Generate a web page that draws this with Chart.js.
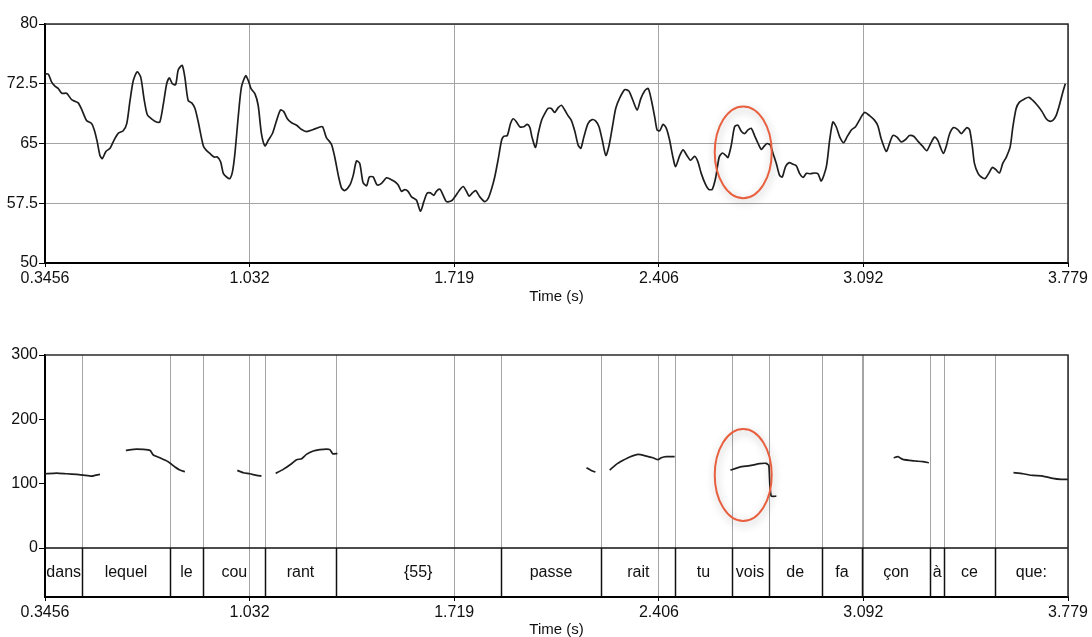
<!DOCTYPE html>
<html>
<head>
<meta charset="utf-8">
<script src="https://cdn.jsdelivr.net/npm/chart.js@4.4.0/dist/chart.umd.min.js"></script>
<style>
  body { margin: 0; background: #fff; }
  #wrap { position: relative; width: 1092px; height: 637px; overflow: hidden; }
  canvas { position: absolute; left: 0; }
  #intensityChart { top: 0; }
  #pitchChart { top: 320px; }
</style>
</head>
<body>
<div id="wrap">
  <canvas id="intensityChart" width="1092" height="320"></canvas>
  <canvas id="pitchChart" width="1092" height="317"></canvas>
</div>
<script>
'use strict';

// time axis
let timeMin = 0.3456;
let timeMax = 3.779;
let timeTicks = [0.3456, 1.032, 1.719, 2.406, 3.092, 3.779];
let timeTickLabels = ['0.3456', '1.032', '1.719', '2.406', '3.092', '3.779'];

// intensity (dB) panel
let dbTicks = [50, 57.5, 65, 72.5, 80];
let dbTickLabels = ['50', '57.5', '65', '72.5', '80'];

let intensityTime = [
  0.3456, 0.357, 0.368, 0.379, 0.390, 0.402, 0.418, 0.435, 0.446, 0.457,
  0.469, 0.485, 0.502, 0.511, 0.521, 0.530, 0.538, 0.550, 0.564, 0.577,
  0.592, 0.608, 0.620, 0.631, 0.642, 0.655, 0.667, 0.678, 0.689, 0.703,
  0.720, 0.731, 0.743, 0.754, 0.763, 0.773, 0.784, 0.793, 0.806, 0.815,
  0.826, 0.838, 0.849, 0.860, 0.877, 0.888, 0.899, 0.913, 0.924, 0.935,
  0.944, 0.955, 0.966, 0.975, 0.983, 0.994, 1.005, 1.019, 1.028, 1.037,
  1.050, 1.061, 1.072, 1.084, 1.095, 1.109, 1.123, 1.136, 1.147, 1.159,
  1.173, 1.190, 1.207, 1.223, 1.246, 1.263, 1.277, 1.290, 1.307, 1.318,
  1.330, 1.341, 1.352, 1.369, 1.380, 1.391, 1.402, 1.413, 1.425, 1.434,
  1.447, 1.460, 1.475, 1.492, 1.505, 1.520, 1.531, 1.542, 1.553, 1.564,
  1.576, 1.592, 1.606, 1.617, 1.628, 1.639, 1.651, 1.659, 1.671, 1.682,
  1.693, 1.710, 1.721, 1.736, 1.749, 1.760, 1.769, 1.780, 1.791, 1.805,
  1.822, 1.833, 1.844, 1.855, 1.866, 1.878, 1.885, 1.897, 1.908, 1.917,
  1.928, 1.939, 1.952, 1.964, 1.973, 1.980, 1.992, 2.001, 2.012, 2.023,
  2.034, 2.045, 2.056, 2.068, 2.079, 2.090, 2.101, 2.112, 2.124, 2.135,
  2.144, 2.154, 2.168, 2.182, 2.194, 2.205, 2.216, 2.228, 2.239, 2.250,
  2.261, 2.275, 2.291, 2.305, 2.319, 2.333, 2.345, 2.358, 2.370, 2.381,
  2.392, 2.400, 2.409, 2.420, 2.431, 2.442, 2.453, 2.462, 2.476, 2.487,
  2.500, 2.512, 2.526, 2.537, 2.548, 2.562, 2.573, 2.585, 2.597, 2.608,
  2.619, 2.630, 2.638, 2.649, 2.660, 2.671, 2.683, 2.694, 2.705, 2.716,
  2.727, 2.739, 2.750, 2.758, 2.769, 2.780, 2.789, 2.800, 2.811, 2.820,
  2.831, 2.843, 2.856, 2.867, 2.878, 2.890, 2.901, 2.914, 2.929, 2.940,
  2.951, 2.968, 2.979, 2.990, 3.001, 3.013, 3.026, 3.037, 3.052, 3.066,
  3.080, 3.096, 3.113, 3.130, 3.141, 3.152, 3.169, 3.180, 3.191, 3.205,
  3.219, 3.234, 3.247, 3.261, 3.275, 3.290, 3.305, 3.318, 3.331, 3.342,
  3.350, 3.361, 3.370, 3.382, 3.395, 3.409, 3.421, 3.432, 3.440, 3.449,
  3.458, 3.465, 3.477, 3.488, 3.501, 3.513, 3.525, 3.536, 3.549, 3.560,
  3.572, 3.585, 3.594, 3.605, 3.616, 3.633, 3.648, 3.661, 3.678, 3.692,
  3.706, 3.717, 3.728, 3.739, 3.750, 3.762, 3.770
];

let intensityDb = [
  73.75, 73.7, 72.7, 72.2, 71.9, 71.3, 71.3, 70.5, 70.3, 70.1,
  69.25, 67.9, 67.5, 66.7, 65.2, 63.5, 63.1, 64.0, 64.4, 65.4,
  66.3, 66.6, 67.5, 70.4, 72.9, 74.0, 73.3, 70.6, 68.6, 68.1,
  67.7, 67.7, 70.0, 72.5, 73.25, 72.5, 72.4, 74.25, 74.8, 73.3,
  70.4, 70.1, 69.4, 67.7, 64.7, 64.1, 63.75, 63.3, 63.3, 62.7,
  61.25, 60.8, 60.6, 61.5, 63.75, 68.3, 72.1, 73.5, 72.9, 71.9,
  71.25, 69.8, 66.25, 64.7, 65.4, 66.25, 67.9, 69.2, 69.0, 68.1,
  67.6, 67.3, 66.75, 66.5, 66.75, 67.0, 67.1, 65.75, 64.9, 63.3,
  61.0, 59.4, 59.1, 59.8, 61.0, 62.8, 62.5, 60.1, 59.7, 60.8,
  60.8, 59.8, 60.0, 60.7, 60.5, 60.2, 59.8, 59.0, 59.2, 59.0,
  58.3, 57.9, 56.5, 57.7, 58.75, 58.8, 58.5, 59.0, 59.25, 58.5,
  57.7, 57.8, 58.3, 59.1, 59.6, 59.0, 58.4, 58.8, 59.1, 58.3,
  57.7, 58.1, 59.25, 60.8, 62.9, 65.4, 65.9, 66.0, 67.5, 68.1,
  67.7, 67.1, 67.1, 67.4, 67.0, 65.8, 64.5, 66.25, 67.9, 68.75,
  69.4, 69.4, 68.9, 69.5, 69.8, 69.2, 68.5, 67.9, 66.5, 64.8,
  64.4, 65.8, 67.5, 68.0, 67.8, 67.1, 65.4, 63.5, 64.8, 67.1,
  69.4, 70.75, 71.75, 71.6, 70.4, 69.2, 70.6, 71.6, 71.9, 70.4,
  68.3, 66.7, 66.6, 67.4, 66.9, 65.4, 63.3, 62.1, 63.5, 64.2,
  63.5, 62.9, 63.4, 62.7, 61.25, 59.9, 59.25, 59.25, 60.8, 63.25,
  63.8, 63.5, 63.25, 64.8, 67.1, 67.3, 66.5, 66.25, 66.7, 66.9,
  66.0, 65.0, 64.25, 64.6, 65.0, 64.8, 63.75, 62.5, 61.0, 60.8,
  62.1, 62.6, 62.4, 62.2, 61.25, 60.75, 61.25, 61.2, 61.3, 61.2,
  60.3, 62.1, 65.4, 67.7, 67.1, 65.8, 65.1, 65.8, 66.7, 67.1,
  68.0, 68.9, 68.5, 67.9, 67.2, 65.6, 64.0, 65.0, 66.0, 65.8,
  65.2, 65.5, 66.0, 65.9, 65.3, 64.7, 64.1, 65.0, 65.8, 65.4,
  64.6, 63.75, 64.6, 66.25, 67.0, 66.75, 66.25, 66.7, 67.0, 66.7,
  64.6, 62.5, 61.25, 60.8, 60.6, 61.25, 62.0, 61.75, 61.3, 62.5,
  63.3, 64.6, 67.1, 69.4, 70.2, 70.6, 70.8, 70.4, 69.7, 69.0,
  68.1, 67.8, 67.9, 68.5, 69.8, 71.5, 72.5
];

// pitch (Hz) panel, null breaks the contour between voiced stretches
let hzTicks = [0, 100, 200, 300];
let hzTickLabels = ['0', '100', '200', '300'];

let pitchTime = [
  0.3456, 0.385, 0.418, 0.452, 0.474, 0.502, 0.513, 0.530, 0.57,
  0.617, 0.653, 0.698, 0.709, 0.731, 0.759, 0.782, 0.798, 0.815, 0.90,
  0.991, 1.011, 1.033, 1.056, 1.072, 1.10,
  1.120, 1.145, 1.173, 1.190, 1.207, 1.223, 1.246, 1.268, 1.290, 1.302, 1.311, 1.327, 1.70,
  2.163, 2.179, 2.193, 2.22,
  2.241, 2.263, 2.286, 2.308, 2.336, 2.364, 2.386, 2.403, 2.414, 2.431, 2.459, 2.55,
  2.646, 2.677, 2.711, 2.744, 2.766, 2.775, 2.778, 2.783, 2.800, 3.0,
  3.194, 3.208, 3.225, 3.247, 3.270, 3.292, 3.312, 3.45,
  3.596, 3.628, 3.661, 3.695, 3.728, 3.756, 3.779
];

let pitchHz = [
  115.5, 116.6, 115.5, 114.5, 113.4, 111.9, 112.9, 114.5, null,
  151.8, 153.9, 151.8, 144.6, 140.4, 134.2, 125.9, 121.2, 118.7, null,
  120.7, 117.1, 115.5, 112.9, 111.9, null,
  116.0, 122.3, 131.1, 137.3, 138.9, 145.6, 150.8, 152.9, 153.9, 152.9, 146.7, 146.7, null,
  124.9, 120.7, 118.1, null,
  121.2, 130.0, 136.3, 141.5, 145.6, 143.0, 140.4, 137.3, 140.4, 142.0, 142.0, null,
  121.2, 125.9, 128.0, 131.1, 131.6, 128.0, 101.5, 80.7, 80.7, null,
  140.4, 142.0, 137.8, 136.3, 135.2, 134.2, 132.6, null,
  117.1, 115.5, 112.9, 111.9, 108.3, 106.7, 106.7
];

// word tier
let tierBoundaries = [0.471, 0.764, 0.877, 1.085, 1.321, 1.875, 2.213, 2.461, 2.650, 2.774, 2.953, 3.088, 3.316, 3.364, 3.533];
let tierLabels = ['dans', 'lequel', 'le', 'cou', 'rant', '{55}', 'passe', 'rait', 'tu', 'vois', 'de', 'fa', 'çon', 'à', 'ce', 'que:'];
let tierFloor = -76;

let fontFamily = '"Liberation Sans", Arial, Helvetica, sans-serif';
let gridGrey = '#a4a4a4';
let inkColor = '#101010';

function toPoints(xs, ys) {
  let points = [];
  for (let i = 0; i < xs.length; i++) {
    points.push({ x: xs[i], y: ys[i] });
  }
  return points;
}

function timeAxis(axisHeight) {
  return {
    type: 'linear',
    min: timeMin,
    max: timeMax,
    afterBuildTicks: function (scale) {
      scale.ticks = timeTicks.map(v => ({ value: v }));
    },
    afterFit: function (scale) {
      scale.height = axisHeight;
    },
    ticks: {
      autoSkip: false,
      maxRotation: 0,
      padding: 2,
      color: inkColor,
      font: { family: fontFamily, size: 16 },
      callback: (value, index) => timeTickLabels[index]
    },
    grid: { color: gridGrey, lineWidth: 1, tickLength: 4, tickColor: '#000' },
    border: { color: '#000', width: 2 },
    title: {
      display: true,
      text: 'Time (s)',
      color: inkColor,
      font: { family: fontFamily, size: 15, lineHeight: 1 },
      padding: 0
    }
  };
}

function valueAxis(min, max, ticks, labels, showGrid) {
  return {
    min: min,
    max: max,
    afterBuildTicks: function (scale) {
      scale.ticks = ticks.map(v => ({ value: v }));
    },
    afterFit: function (scale) {
      scale.width = 45;
    },
    ticks: {
      autoSkip: false,
      padding: 1,
      color: inkColor,
      font: { family: fontFamily, size: 16 },
      callback: (value, index) => labels[index]
    },
    grid: { color: gridGrey, lineWidth: 1, tickLength: 6, tickColor: '#000', drawOnChartArea: showGrid },
    border: { color: '#000', width: 2 }
  };
}

let framePlugin = {
  id: 'frame',
  afterDraw(chart) {
    let ctx = chart.ctx;
    let area = chart.chartArea;
    ctx.save();
    ctx.strokeStyle = '#2a2a2a';
    ctx.lineWidth = 1.5;
    ctx.beginPath();
    ctx.moveTo(area.left, area.top);
    ctx.lineTo(area.right, area.top);
    ctx.lineTo(area.right, area.bottom);
    ctx.stroke();
    ctx.restore();
  }
};

// red hand-drawn style circle around the "vois" region
let ellipsePlugin = {
  id: 'ellipse',
  afterDraw(chart, args, opts) {
    if (!opts || opts.cx === undefined) {
      return;
    }
    let xScale = chart.scales.x;
    let yScale = chart.scales.y;
    let cx = xScale.getPixelForValue(opts.cx);
    let cy = yScale.getPixelForValue(opts.cy);
    let rx = xScale.getPixelForValue(opts.cx + opts.rx) - cx;
    let ry = cy - yScale.getPixelForValue(opts.cy + opts.ry);
    let ctx = chart.ctx;
    ctx.save();
    ctx.shadowColor = 'rgba(0,0,0,0.3)';
    ctx.shadowBlur = 8;
    ctx.shadowOffsetX = 1;
    ctx.shadowOffsetY = 3;
    ctx.strokeStyle = '#e8603f';
    ctx.lineWidth = 2;
    ctx.beginPath();
    ctx.ellipse(cx, cy, rx, ry, 0, 0, Math.PI * 2);
    ctx.stroke();
    ctx.restore();
  }
};

let tierPlugin = {
  id: 'tier',
  beforeDatasetsDraw(chart) {
    let ctx = chart.ctx;
    let xScale = chart.scales.x;
    let yScale = chart.scales.y;
    let top = chart.chartArea.top;
    let zero = yScale.getPixelForValue(0);
    let bottom = yScale.getPixelForValue(tierFloor);
    ctx.save();
    for (let i = 0; i < tierBoundaries.length; i++) {
      let x = Math.round(xScale.getPixelForValue(tierBoundaries[i])) + 0.5;
      ctx.strokeStyle = gridGrey;
      ctx.lineWidth = 1;
      ctx.beginPath();
      ctx.moveTo(x, top);
      ctx.lineTo(x, zero);
      ctx.stroke();
      ctx.strokeStyle = '#111';
      ctx.lineWidth = 1.5;
      ctx.beginPath();
      ctx.moveTo(x, zero);
      ctx.lineTo(x, bottom);
      ctx.stroke();
    }
    ctx.strokeStyle = '#111';
    ctx.lineWidth = 1.5;
    ctx.beginPath();
    ctx.moveTo(chart.chartArea.left, zero);
    ctx.lineTo(chart.chartArea.right, zero);
    ctx.stroke();

    let edges = [timeMin].concat(tierBoundaries, [timeMax]);
    ctx.fillStyle = inkColor;
    ctx.font = '16px ' + fontFamily;
    ctx.textAlign = 'center';
    ctx.textBaseline = 'middle';
    let labelY = yScale.getPixelForValue(tierFloor / 2);
    for (let i = 0; i < tierLabels.length; i++) {
      let mid = (xScale.getPixelForValue(edges[i]) + xScale.getPixelForValue(edges[i + 1])) / 2;
      ctx.fillText(tierLabels[i], mid, labelY);
    }
    ctx.restore();
  }
};

let lineStyle = {
  borderColor: '#1e1e1e',
  borderWidth: 1.7,
  pointRadius: 0,
  tension: 0.25,
  spanGaps: false,
  fill: false
};

// eslint-disable-next-line no-unused-vars
let intensityChart = new Chart(document.getElementById('intensityChart'), {
  type: 'line',
  data: {
    datasets: [Object.assign({ label: 'Intensity (dB)', data: toPoints(intensityTime, intensityDb) }, lineStyle)]
  },
  options: {
    responsive: false,
    animation: false,
    layout: { padding: { top: 24, right: 24, bottom: 16, left: 0 } },
    scales: {
      x: timeAxis(41),
      y: valueAxis(50, 80, dbTicks, dbTickLabels, true)
    },
    plugins: {
      legend: { display: false },
      tooltip: { enabled: false },
      ellipse: { cx: 2.689, cy: 63.9, rx: 0.0956, ry: 5.76 }
    }
  },
  plugins: [framePlugin, ellipsePlugin]
});

// eslint-disable-next-line no-unused-vars
let pitchChart = new Chart(document.getElementById('pitchChart'), {
  type: 'line',
  data: {
    datasets: [Object.assign({ label: 'Pitch (Hz)', data: toPoints(pitchTime, pitchHz) }, lineStyle, { tension: 0.15 })]
  },
  options: {
    responsive: false,
    animation: false,
    layout: { padding: { top: 35, right: 24, bottom: 0, left: 0 } },
    scales: {
      x: timeAxis(40),
      y: valueAxis(tierFloor, 300, hzTicks, hzTickLabels, false)
    },
    plugins: {
      legend: { display: false },
      tooltip: { enabled: false },
      ellipse: { cx: 2.689, cy: 113.5, rx: 0.0956, ry: 71.5 }
    }
  },
  plugins: [framePlugin, tierPlugin, ellipsePlugin]
});
</script>
</body>
</html>
